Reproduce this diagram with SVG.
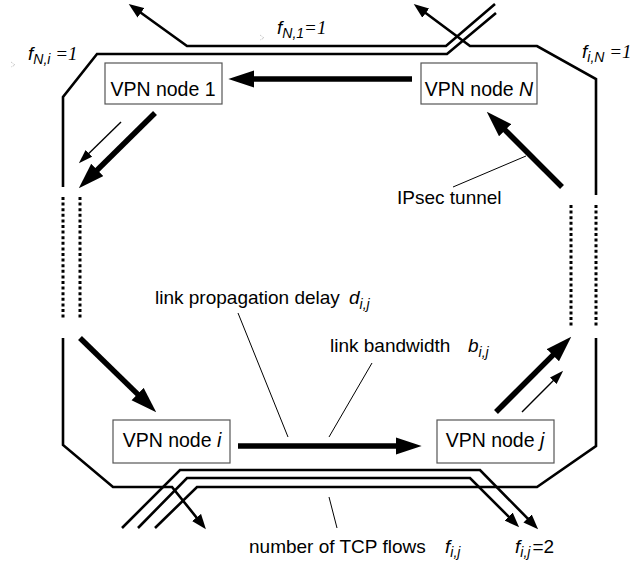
<svg xmlns="http://www.w3.org/2000/svg" width="635" height="566" viewBox="0 0 635 566">
<style>
text{font-family:"Liberation Sans",Arial,sans-serif;font-size:19px;fill:#000}
.nt{font-size:19.5px}
.it{font-style:italic}
.sub{font-size:14px;font-style:italic}
.sr{font-family:"Liberation Serif","Times New Roman",serif;font-style:italic}
.box{fill:#fff;stroke:#555;stroke-width:1.2}
.flow{fill:none;stroke:#000;stroke-width:2.6;stroke-linejoin:miter}
.dot{fill:none;stroke:#000;stroke-width:3;stroke-dasharray:3 2.6}
.thick{stroke:#000;stroke-width:5.5;fill:none}
.thin{stroke:#000;stroke-width:1.4;fill:none}
.lead{stroke:#000;stroke-width:1;fill:none}
.mark{stroke:#aaa;stroke-width:0.8;fill:none;stroke-dasharray:1 1}
</style>
<defs>
<marker id="big" markerUnits="userSpaceOnUse" markerWidth="26" markerHeight="18" viewBox="0 0 24 16" refX="4" refY="8" orient="auto"><path d="M0,0 L24,8 L0,16 z" fill="#000"/></marker>
<marker id="small" markerUnits="userSpaceOnUse" markerWidth="14" markerHeight="10" viewBox="0 0 12 8" refX="2" refY="4" orient="auto"><path d="M0,0 L12,4 L0,8 z" fill="#000"/></marker>
<marker id="fl" markerUnits="userSpaceOnUse" markerWidth="15" markerHeight="12" viewBox="0 0 13 10" refX="3" refY="5" orient="auto"><path d="M0,0 L13,5 L0,10 z" fill="#000"/></marker>
</defs>
<g id="connectors">
<polyline class="flow" points="495,4 446,46 187,46 138.1,10.8" marker-end="url(#fl)"/>
<polyline class="flow" points="496,13 447,54 97,54 63,97 63,187"/>
<line class="dot" x1="63" y1="197" x2="63" y2="318"/>
<polyline class="flow" points="63,338 63,445 113,487 172,487 198.7,520.2" marker-end="url(#fl)"/>
<polyline class="flow" points="155,528 197,487 537,487 596,446 596,338"/>
<line class="dot" x1="596" y1="205" x2="596" y2="327"/>
<polyline class="flow" points="596,195 596,79 537,46 470,46 423,11" marker-end="url(#fl)"/>
<polyline class="flow" points="122,528 180,470 480,470 530,520.9" marker-end="url(#fl)"/>
<polyline class="flow" points="138,528 187,478 470,478 511,519" marker-end="url(#fl)"/>
<line class="dot" x1="80" y1="197" x2="80" y2="318"/>
<line class="dot" x1="571" y1="205" x2="571" y2="327"/>
<line class="thick" x1="412" y1="79" x2="250" y2="79" marker-end="url(#big)"/>
<line class="thick" x1="155" y1="113" x2="94.2" y2="173" marker-end="url(#big)"/>
<line class="thick" x1="80" y1="338" x2="140.7" y2="397.1" marker-end="url(#big)"/>
<line class="thick" x1="238" y1="446" x2="400" y2="446" marker-end="url(#big)"/>
<line class="thick" x1="496" y1="412" x2="555.9" y2="352.1" marker-end="url(#big)"/>
<line class="thick" x1="562" y1="187" x2="502.1" y2="127.1" marker-end="url(#big)"/>
<line class="thin" x1="121" y1="122" x2="87.2" y2="155" marker-end="url(#small)"/>
<line class="thin" x1="522" y1="412" x2="554.9" y2="379.1" marker-end="url(#small)"/>
<line class="lead" x1="453" y1="187" x2="526" y2="156"/>
<line class="lead" x1="238" y1="313" x2="288" y2="437"/>
<line class="lead" x1="372" y1="363" x2="329" y2="437"/>
<line class="lead" x1="329" y1="497" x2="337" y2="528"/>
</g>
<g id="node1"><rect class="box" x="105" y="63" width="117" height="41"/><text class="nt" x="163" y="96" text-anchor="middle">VPN node 1</text></g>
<g id="nodeN"><rect class="box" x="421" y="63" width="116" height="41"/><text class="nt" x="479" y="96" text-anchor="middle">VPN node <tspan class="it">N</tspan></text></g>
<g id="nodei"><rect class="box" x="113" y="420" width="117" height="43"/><text class="nt" x="172" y="447" text-anchor="middle">VPN node <tspan class="it">i</tspan></text></g>
<g id="nodej"><rect class="box" x="437" y="420" width="117" height="43"/><text class="nt" x="495" y="447" text-anchor="middle">VPN node <tspan class="it">j</tspan></text></g>
<g id="labels">
<text x="397" y="204">IPsec tunnel</text>
<text x="155" y="304">link propagation delay</text>
<text x="349" y="304"><tspan class="it">d</tspan><tspan class="sub" dy="5">i,j</tspan></text>
<text x="330" y="352">link bandwidth</text>
<text x="468" y="352"><tspan class="it">b</tspan><tspan class="sub" dy="5">i,j</tspan></text>
<text x="249" y="553">number of TCP flows</text>
<text x="445" y="553"><tspan class="it">f</tspan><tspan class="sub" dy="4">i,j</tspan></text>
<text x="515" y="553"><tspan class="it">f</tspan><tspan class="sub" dy="4">i,j</tspan><tspan dx="2" dy="-4">=2</tspan></text>
<text x="28" y="60"><tspan class="it">f</tspan><tspan class="sub" dy="4">N,i</tspan><tspan class="sr" dy="-4"> =1</tspan></text>
<text x="277" y="34"><tspan class="it">f</tspan><tspan class="sub" dy="4">N,1</tspan><tspan class="sr" dy="-4">=1</tspan></text>
<text x="582" y="58"><tspan class="it">f</tspan><tspan class="sub" dy="4">i,N</tspan><tspan class="sr" dy="-4"> =1</tspan></text>
<path class="mark" d="M11,62 L15,65 L11,67"/>
<path class="mark" d="M260,35 L264,38 L260,40"/>
</g>
</svg>
